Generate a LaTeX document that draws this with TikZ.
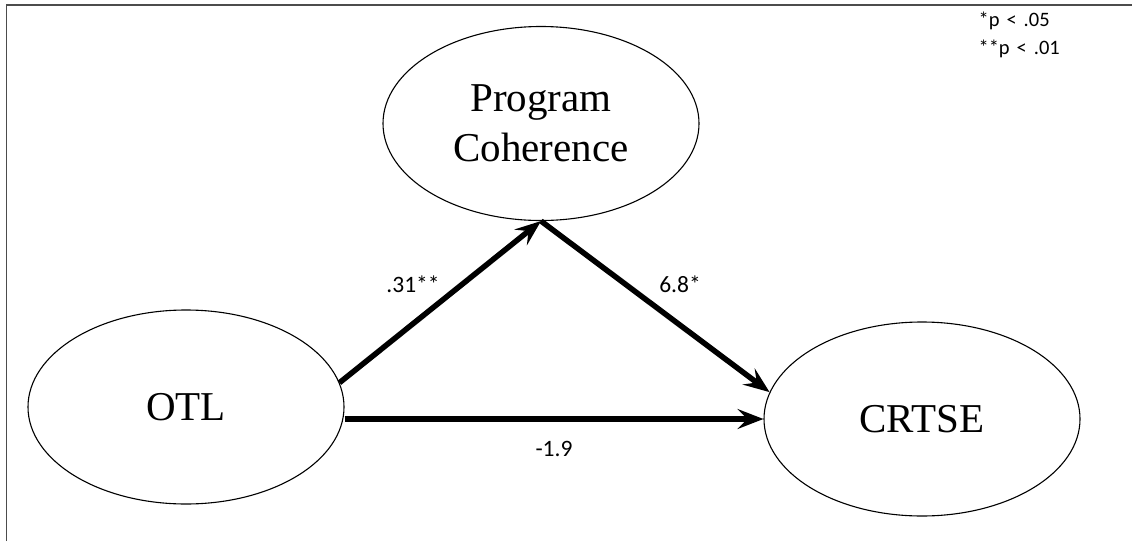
\documentclass[tikz,border=0pt]{standalone}
\usepackage{fontspec}
\setmainfont{Liberation Serif}
\newfontfamily\calib{Carlito}
\usetikzlibrary{shapes.geometric,arrows.meta}
\begin{document}
\begin{tikzpicture}[x=1pt,y=-1pt,
  latent/.style={ellipse, draw, line width=1.1pt, minimum width=316pt, minimum height=194pt, inner sep=0pt, font=\fontsize{41}{50}\selectfont, align=center},
  pathline/.style={line width=5.5pt, -{Stealth[length=26pt,width=20pt,inset=10pt]}},
  coef/.style={font=\calib\fontsize{23.5}{28}\selectfont},
  frameline/.style={draw=black!70, line width=1.8pt}]
\useasboundingbox (0,0) rectangle (1132,541);
\coordinate (fbl) at (6.5,541);
\coordinate (ftl) at (6.5,5);
\coordinate (ftr) at (1132,5);
\draw[frameline] (fbl) -- (ftl) -- (ftr);
\node[latent] (PC) at (541,123.5) {Program\\Coherence};
\node[latent] (OTL) at (186,407) {OTL};
\node[latent] (CRTSE) at (922,419) {CRTSE};
\draw[pathline] (OTL.9) -- (PC.south);
\draw[pathline] (PC.south) -- (CRTSE.170);
\draw[pathline] (OTL.east |- CRTSE.west) -- (CRTSE.west);
\node[coef] (c1) at (413,284) {.31**};
\node[coef] (c2) at (680,284) {6.8*};
\node[coef] (c3) at (554,449) {-1.9};
\node[coef, anchor=base west, align=left, font=\calib\fontsize{20.5}{28}\selectfont] (leg) at (975,54) {*p\hspace{7pt}<\hspace{7pt}.05\\**p\hspace{7pt}<\hspace{7pt}.01};
\end{tikzpicture}
\end{document}
